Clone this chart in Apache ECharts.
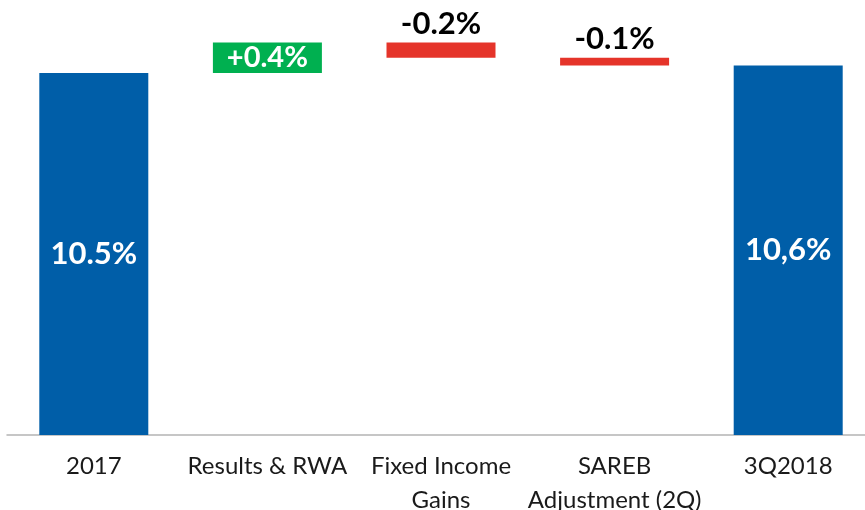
<!DOCTYPE html>
<html>
<head>
<meta charset="utf-8">
<script src="https://cdn.jsdelivr.net/npm/echarts@6/dist/echarts.min.js"></script>
<style>
html,body{margin:0;padding:0;background:#fff;}
#chart{width:865px;height:510px;}
</style>
</head>
<body>
<div id="chart"></div>
<script>
// ---- data ----
var categories = ['2017', 'Results & RWA', 'Fixed Income\nGains', 'SAREB\nAdjustment (2Q)', '3Q2018'];
var startValue = 10.5;
var changes = [0.4, -0.2, -0.1];
var endValue = 10.6;
var valueLabels = ['10.5%', '+0.4%', '-0.2%', '-0.1%', '10,6%'];

// ---- build waterfall ----
var BLUE = '#005ea8', GREEN = '#00b050', RED = '#e5342a';
var base = [0];
var heights = [startValue];
var running = startValue;
changes.forEach(function (c) {
  if (c >= 0) { base.push(running); heights.push(c); }
  else { base.push(running + c); heights.push(-c); }
  running += c;
});
base.push(0);
heights.push(endValue);

var visData = heights.map(function (h, i) {
  var isTotal = (i === 0 || i === heights.length - 1);
  var delta = isTotal ? 0 : changes[i - 1];
  var color = isTotal ? BLUE : (delta >= 0 ? GREEN : RED);
  var label;
  if (isTotal || delta >= 0) {
    label = { show: true, position: 'inside', color: '#fff', fontSize: isTotal ? 31 : 29,
      fontWeight: 'bold', fontFamily: 'Lato', formatter: valueLabels[i] };
  } else {
    label = { show: true, position: 'top', distance: 3, color: '#000', fontSize: 31,
      fontWeight: 'bold', fontFamily: 'Lato', formatter: valueLabels[i] };
  }
  return { value: h, itemStyle: { color: color }, label: label };
});

var chart = echarts.init(document.getElementById('chart'), null, { renderer: 'canvas' });
chart.setOption({
  animation: false,
  grid: { left: 7, right: -10, top: 0, bottom: 75, containLabel: false, outerBoundsMode: 'none' },
  xAxis: {
    type: 'category',
    data: categories,
    axisLine: { show: true, lineStyle: { color: '#b4b4b4', width: 1.5 } },
    axisTick: { show: false },
    axisLabel: { interval: 0, color: '#1a1a1a', fontFamily: 'Lato', fontSize: 24, lineHeight: 34, margin: 14 }
  },
  yAxis: {
    type: 'value',
    min: 5.74,
    max: 11.46,
    show: false,
    splitLine: { show: false }
  },
  series: [
    {
      type: 'bar', stack: 'wf', barWidth: 109, silent: true,
      itemStyle: { color: 'transparent' },
      data: base
    },
    {
      type: 'bar', stack: 'wf', barWidth: 109,
      data: visData
    }
  ]
});
</script>
</body>
</html>
